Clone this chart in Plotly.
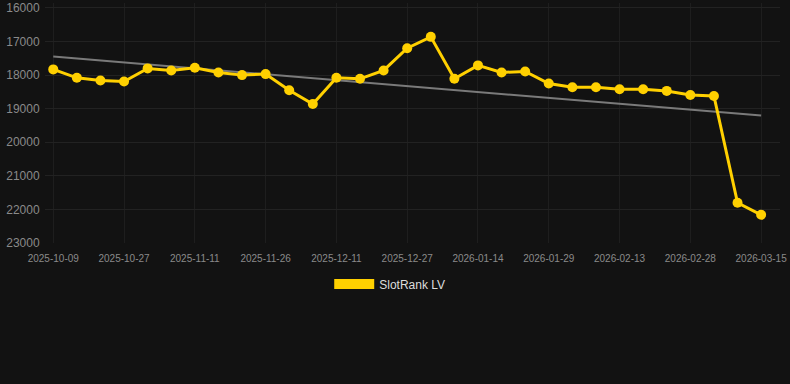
import numpy as np
import plotly.graph_objects as go

dates = ["2025-10-09", "2025-10-15", "2025-10-21", "2025-10-27", "2025-11-01", "2025-11-06",
         "2025-11-11", "2025-11-16", "2025-11-21", "2025-11-26", "2025-12-01", "2025-12-06",
         "2025-12-11", "2025-12-16", "2025-12-21", "2025-12-27", "2026-01-02", "2026-01-08",
         "2026-01-14", "2026-01-19", "2026-01-24", "2026-01-29", "2026-02-03", "2026-02-08",
         "2026-02-13", "2026-02-18", "2026-02-23", "2026-02-28", "2026-03-05", "2026-03-10",
         "2026-03-15"]
ranks = [17830, 18080, 18160, 18190, 17800, 17860, 17780, 17920, 18000, 17970,
         18450, 18860, 18080, 18110, 17860, 17200, 16860, 18110, 17710, 17920,
         17890, 18250, 18360, 18360, 18420, 18420, 18470, 18590, 18620, 21800,
         22160]
y_ticks = [16000, 17000, 18000, 19000, 20000, 21000, 22000, 23000]

idx = np.arange(len(ranks))
slope, intercept = np.polyfit(idx, ranks, 1)
trend = slope * idx + intercept

fig = go.Figure()
fig.add_trace(go.Scatter(x=dates, y=trend, mode="lines",
                         line=dict(color="#7a7a7a", width=2), showlegend=False, hoverinfo="skip"))
fig.add_trace(go.Scatter(x=dates, y=ranks, mode="lines+markers",
                         line=dict(color="#FFD000", width=3),
                         marker=dict(size=10, color="#FFD000"), showlegend=False))
fig.add_trace(go.Scatter(x=[None], y=[None], mode="lines", name="SlotRank LV",
                         line=dict(color="#FFD000", width=12)))

fig.update_layout(
    width=790, height=384,
    margin=dict(l=45, r=10, t=1, b=141),
    paper_bgcolor="#121212", plot_bgcolor="#121212",
    font=dict(family="Liberation Sans, Arial, sans-serif", color="#8a8a8a"),
    showlegend=True,
    legend=dict(orientation="h", x=0.469, xanchor="center", y=-0.11, yanchor="top",
                font=dict(color="#dddddd", size=12), itemwidth=40),
    xaxis=dict(type="category", range=[-0.35, 30.8], tickmode="array",
               tickvals=dates[::3], ticktext=dates[::3],
               showgrid=True, gridcolor="#1e1e1e", tickfont=dict(size=10, color="#8a8a8a"),
               showline=False, zeroline=False, ticks="outside", ticklen=6,
               tickcolor="rgba(0,0,0,0)", tickangle=0),
    yaxis=dict(range=[23000, 15852], tickmode="array", tickvals=y_ticks,
               ticktext=[str(v) for v in y_ticks], showgrid=True, gridcolor="#222222",
               zeroline=False, tickfont=dict(size=12, color="#8a8a8a"), ticks="outside",
               ticklen=2, tickcolor="rgba(0,0,0,0)", ticklabeloverflow="allow"),
)
fig.write_html("out.html")
